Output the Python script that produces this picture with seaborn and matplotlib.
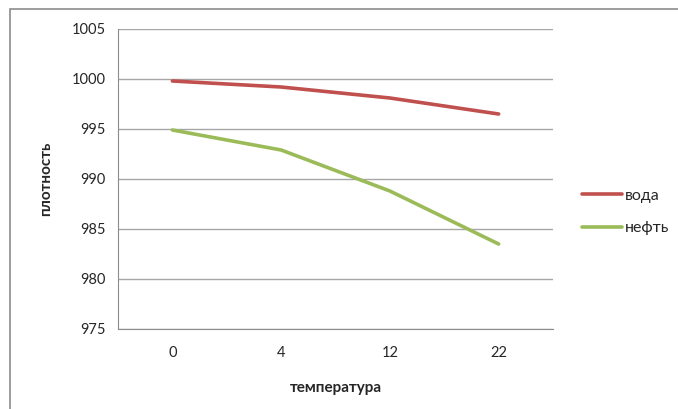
import matplotlib
matplotlib.use("Agg")
import matplotlib.pyplot as plt
from matplotlib.patches import Rectangle
import pandas as pd
import seaborn as sns

temperatures = ["0", "4", "12", "22"]
water = [999.8, 999.2, 998.1, 996.5]
oil = [994.9, 992.9, 988.8, 983.5]
series_names = ["вода", "нефть"]
y_ticks = [975, 980, 985, 990, 995, 1000, 1005]

sns.set_theme(style="white")
plt.rcParams["font.family"] = ["Lato", "DejaVu Sans"]

df = pd.DataFrame({
    "температура": temperatures * 2,
    "плотность": water + oil,
    "series": [series_names[0]] * len(water) + [series_names[1]] * len(oil),
})

fig = plt.figure(figsize=(6.78, 4.09), dpi=100)
# chart frame: only its left and top edges fall inside the image
fig.patches.append(Rectangle((10 / 678, -0.2), 1.2, 1.2 - 9 / 409, transform=fig.transFigure,
                             fill=False, edgecolor="#8c8c8c", linewidth=1.2))
ax = fig.add_axes([118 / 678, 1 - 329 / 409, (553 - 118) / 678, 300 / 409])

palette = {"вода": "#C0504D", "нефть": "#9BBB59"}
sns.lineplot(data=df, x="температура", y="плотность", hue="series", palette=palette,
             linewidth=2.6, ax=ax, sort=False, legend=False)

ax.set_xlim(-0.5, 3.5)
ax.set_ylim(975, 1005)
ax.set_yticks(y_ticks)
ax.set_yticklabels([str(v) for v in y_ticks], fontsize=10.5)
ax.set_xticks(range(len(temperatures)))
ax.set_xticklabels(temperatures, fontsize=10.5)
ax.set_xticks([-0.5, 0.5, 1.5, 2.5, 3.5], minor=True)
ax.tick_params(axis="x", which="major", length=0, pad=12)
ax.tick_params(axis="x", which="minor", length=5, color="#8c8c8c", width=0.8, direction="out")
ax.tick_params(axis="y", which="major", length=5, color="#8c8c8c", width=0.8, direction="out", pad=4)
ax.yaxis.grid(True, color="#a6a6a6", linewidth=1.0)
ax.set_axisbelow(True)
for side in ["top", "right"]:
    ax.spines[side].set_visible(False)
for side in ["left", "bottom"]:
    ax.spines[side].set_color("#8c8c8c")
    ax.spines[side].set_linewidth(0.8)

ax.set_xlabel("температура", fontsize=11, fontweight="bold")
ax.set_ylabel("плотность", fontsize=11, fontweight="bold")
ax.xaxis.set_label_coords(0.5, -0.173)
ax.yaxis.set_label_coords(-0.15, 0.5)

handles = [plt.Line2D([], [], color=palette[n], linewidth=2.6) for n in series_names]
fig.legend(handles, series_names, loc="center left", bbox_to_anchor=(568 / 678, 1 - 212 / 409),
           frameon=False, fontsize=11.5, handlelength=2.5, handletextpad=0.15, labelspacing=1.15)

fig.savefig("out.png", dpi=100)
